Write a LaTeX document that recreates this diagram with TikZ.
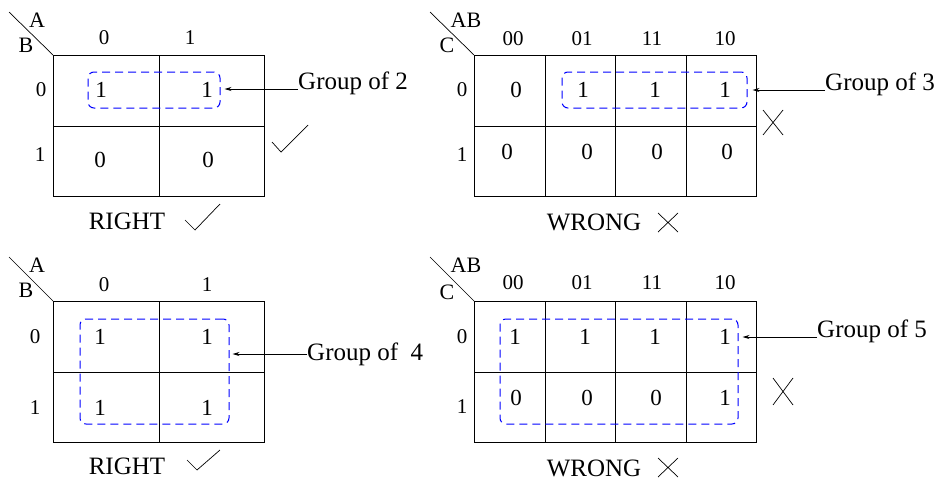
\documentclass[tikz,border=0pt]{standalone}
\usepackage{fontspec}
\setmainfont{Liberation Serif}
\usetikzlibrary{arrows.meta}
\begin{document}
\begin{tikzpicture}[x=1pt,y=-1pt,
  gridline/.style={draw=black, line width=0.9pt},
  lbl/.style={inner sep=0pt, font=\fontsize{21}{22}\selectfont},
  val/.style={inner sep=0pt, font=\fontsize{23}{25}\selectfont},
  corner/.style={inner sep=0pt, font=\fontsize{22}{23}\selectfont},
  grptxt/.style={inner sep=0pt, anchor=base west, font=\fontsize{25}{27}\selectfont},
  verdict/.style={inner sep=0pt, font=\fontsize{25}{27}\selectfont},
  grp/.style={draw=blue, dash pattern=on 8pt off 5pt, line width=1pt, rounded corners=6pt, inner sep=0pt},
  arr/.style={-{Stealth[length=7pt,width=4pt]}, line width=0.8pt},
  stroke/.style={line width=0.7pt}
]
\useasboundingbox (0,0) rectangle (940,482);

% ---------- top-left map ----------
\draw[gridline] (53,55) rectangle (264,196);
\draw[gridline] (159,55) -- (159,196) (53,126) -- (264,126);
\draw[stroke] (9,12) -- (53,55);
\node[corner] (tlA) at (37,20) {A};
\node[corner] (tlB) at (26,45) {B};
\node[lbl] (tlc0) at (104,38) {0};
\node[lbl] (tlc1) at (190,38) {1};
\node[lbl] (tlr0) at (41,90) {0};
\node[lbl] (tlr1) at (40,155) {1};
\node[val] (tl00) at (101,90) {1};
\node[val] (tl01) at (207,90) {1};
\node[val] (tl10) at (100,160) {0};
\node[val] (tl11) at (208,160) {0};
\node[grp, minimum width=132pt, minimum height=36pt] (g2) at (154,90) {};
\node[grptxt] (t2) at (298,89) {Group of 2};
\coordinate (e2) at ([xshift=4pt]g2.east);
\draw[arr] (t2.base west) -- (e2 |- t2.base west);
\draw[stroke] (272,142) -- (281,152) -- (308,125);
\node[verdict] (v1) at (127,221) {RIGHT};
\draw[stroke] (185,220) -- (195,230) -- (220,204);

% ---------- top-right map ----------
\draw[gridline] (474,55) rectangle (756,196);
\draw[gridline] (545,55) -- (545,196) (615,55) -- (615,196) (686,55) -- (686,196) (474,126) -- (756,126);
\draw[stroke] (430,12) -- (474,55);
\node[corner] (trAB) at (466,20) {AB};
\node[corner] (trC) at (447,45) {C};
\node[lbl] (trc0) at (513,39) {00};
\node[lbl] (trc1) at (582,39) {01};
\node[lbl] (trc2) at (652,39) {11};
\node[lbl] (trc3) at (725,39) {10};
\node[lbl] (trr0) at (462,90) {0};
\node[lbl] (trr1) at (462,155) {1};
\node[val] (tr00) at (516,90) {0};
\node[val] (tr01) at (583,90) {1};
\node[val] (tr02) at (655,90) {1};
\node[val] (tr03) at (725,90) {1};
\node[val] (tr10) at (507,152) {0};
\node[val] (tr11) at (587,152) {0};
\node[val] (tr12) at (657,152) {0};
\node[val] (tr13) at (727,152) {0};
\node[grp, minimum width=185pt, minimum height=36pt] (g3) at (654.5,90) {};
\node[grptxt] (t3) at (825,90) {Group of 3};
\coordinate (e3) at ([xshift=5pt]g3.east);
\draw[arr] (t3.base west) -- (e3 |- t3.base west);
\draw[stroke] (763,110) -- (783,135) (783,110) -- (763,135);
\node[verdict] (v2) at (594,222) {WRONG};
\draw[stroke] (658,213) -- (678,232) (678,213) -- (658,232);

% ---------- bottom-left map ----------
\draw[gridline] (53,301) rectangle (264,442);
\draw[gridline] (159,301) -- (159,442) (53,372) -- (264,372);
\draw[stroke] (9,257) -- (53,301);
\node[corner] (blA) at (37,265) {A};
\node[corner] (blB) at (26,290) {B};
\node[lbl] (blc0) at (104,285) {0};
\node[lbl] (blc1) at (207,285) {1};
\node[lbl] (blr0) at (35,337) {0};
\node[lbl] (blr1) at (35,408) {1};
\node[val] (bl00) at (100,337) {1};
\node[val] (bl01) at (207,337) {1};
\node[val] (bl10) at (100,408) {1};
\node[val] (bl11) at (207,408) {1};
\node[grp, minimum width=149pt, minimum height=105pt] (g4) at (154.5,371.5) {};
\node[grptxt] (t4) at (307,360) {Group of\ \ 4};
\coordinate (s4) at ([yshift=6pt]t4.base west);
\coordinate (e4) at ([xshift=3pt]g4.east);
\draw[arr] (s4) -- (e4 |- s4);
\node[verdict] (v3) at (127,466) {RIGHT};
\draw[stroke] (187,460) -- (197,470) -- (220,450);

% ---------- bottom-right map ----------
\draw[gridline] (474,301) rectangle (756,442);
\draw[gridline] (545,301) -- (545,442) (615,301) -- (615,442) (686,301) -- (686,442) (474,372) -- (756,372);
\draw[stroke] (430,257) -- (474,301);
\node[corner] (brAB) at (466,265) {AB};
\node[corner] (brC) at (447,292) {C};
\node[lbl] (brc0) at (513,283) {00};
\node[lbl] (brc1) at (582,283) {01};
\node[lbl] (brc2) at (652,283) {11};
\node[lbl] (brc3) at (725,283) {10};
\node[lbl] (brr0) at (462,337) {0};
\node[lbl] (brr1) at (462,407) {1};
\node[val] (br00) at (515,337) {1};
\node[val] (br01) at (585,337) {1};
\node[val] (br02) at (655,337) {1};
\node[val] (br03) at (725,337) {1};
\node[val] (br10) at (516,398) {0};
\node[val] (br11) at (587,398) {0};
\node[val] (br12) at (656,398) {0};
\node[val] (br13) at (725,398) {1};
\node[grp, minimum width=238pt, minimum height=105pt] (g5) at (619,371.5) {};
\node[grptxt] (t5) at (817,337) {Group of 5};
\coordinate (e5) at ([xshift=4pt]g5.east);
\draw[arr] (t5.base west) -- (e5 |- t5.base west);
\draw[stroke] (773,378) -- (793,405) (793,378) -- (773,405);
\node[verdict] (v4) at (594,468) {WRONG};
\draw[stroke] (658,458) -- (678,477) (678,458) -- (658,477);
\end{tikzpicture}
\end{document}
